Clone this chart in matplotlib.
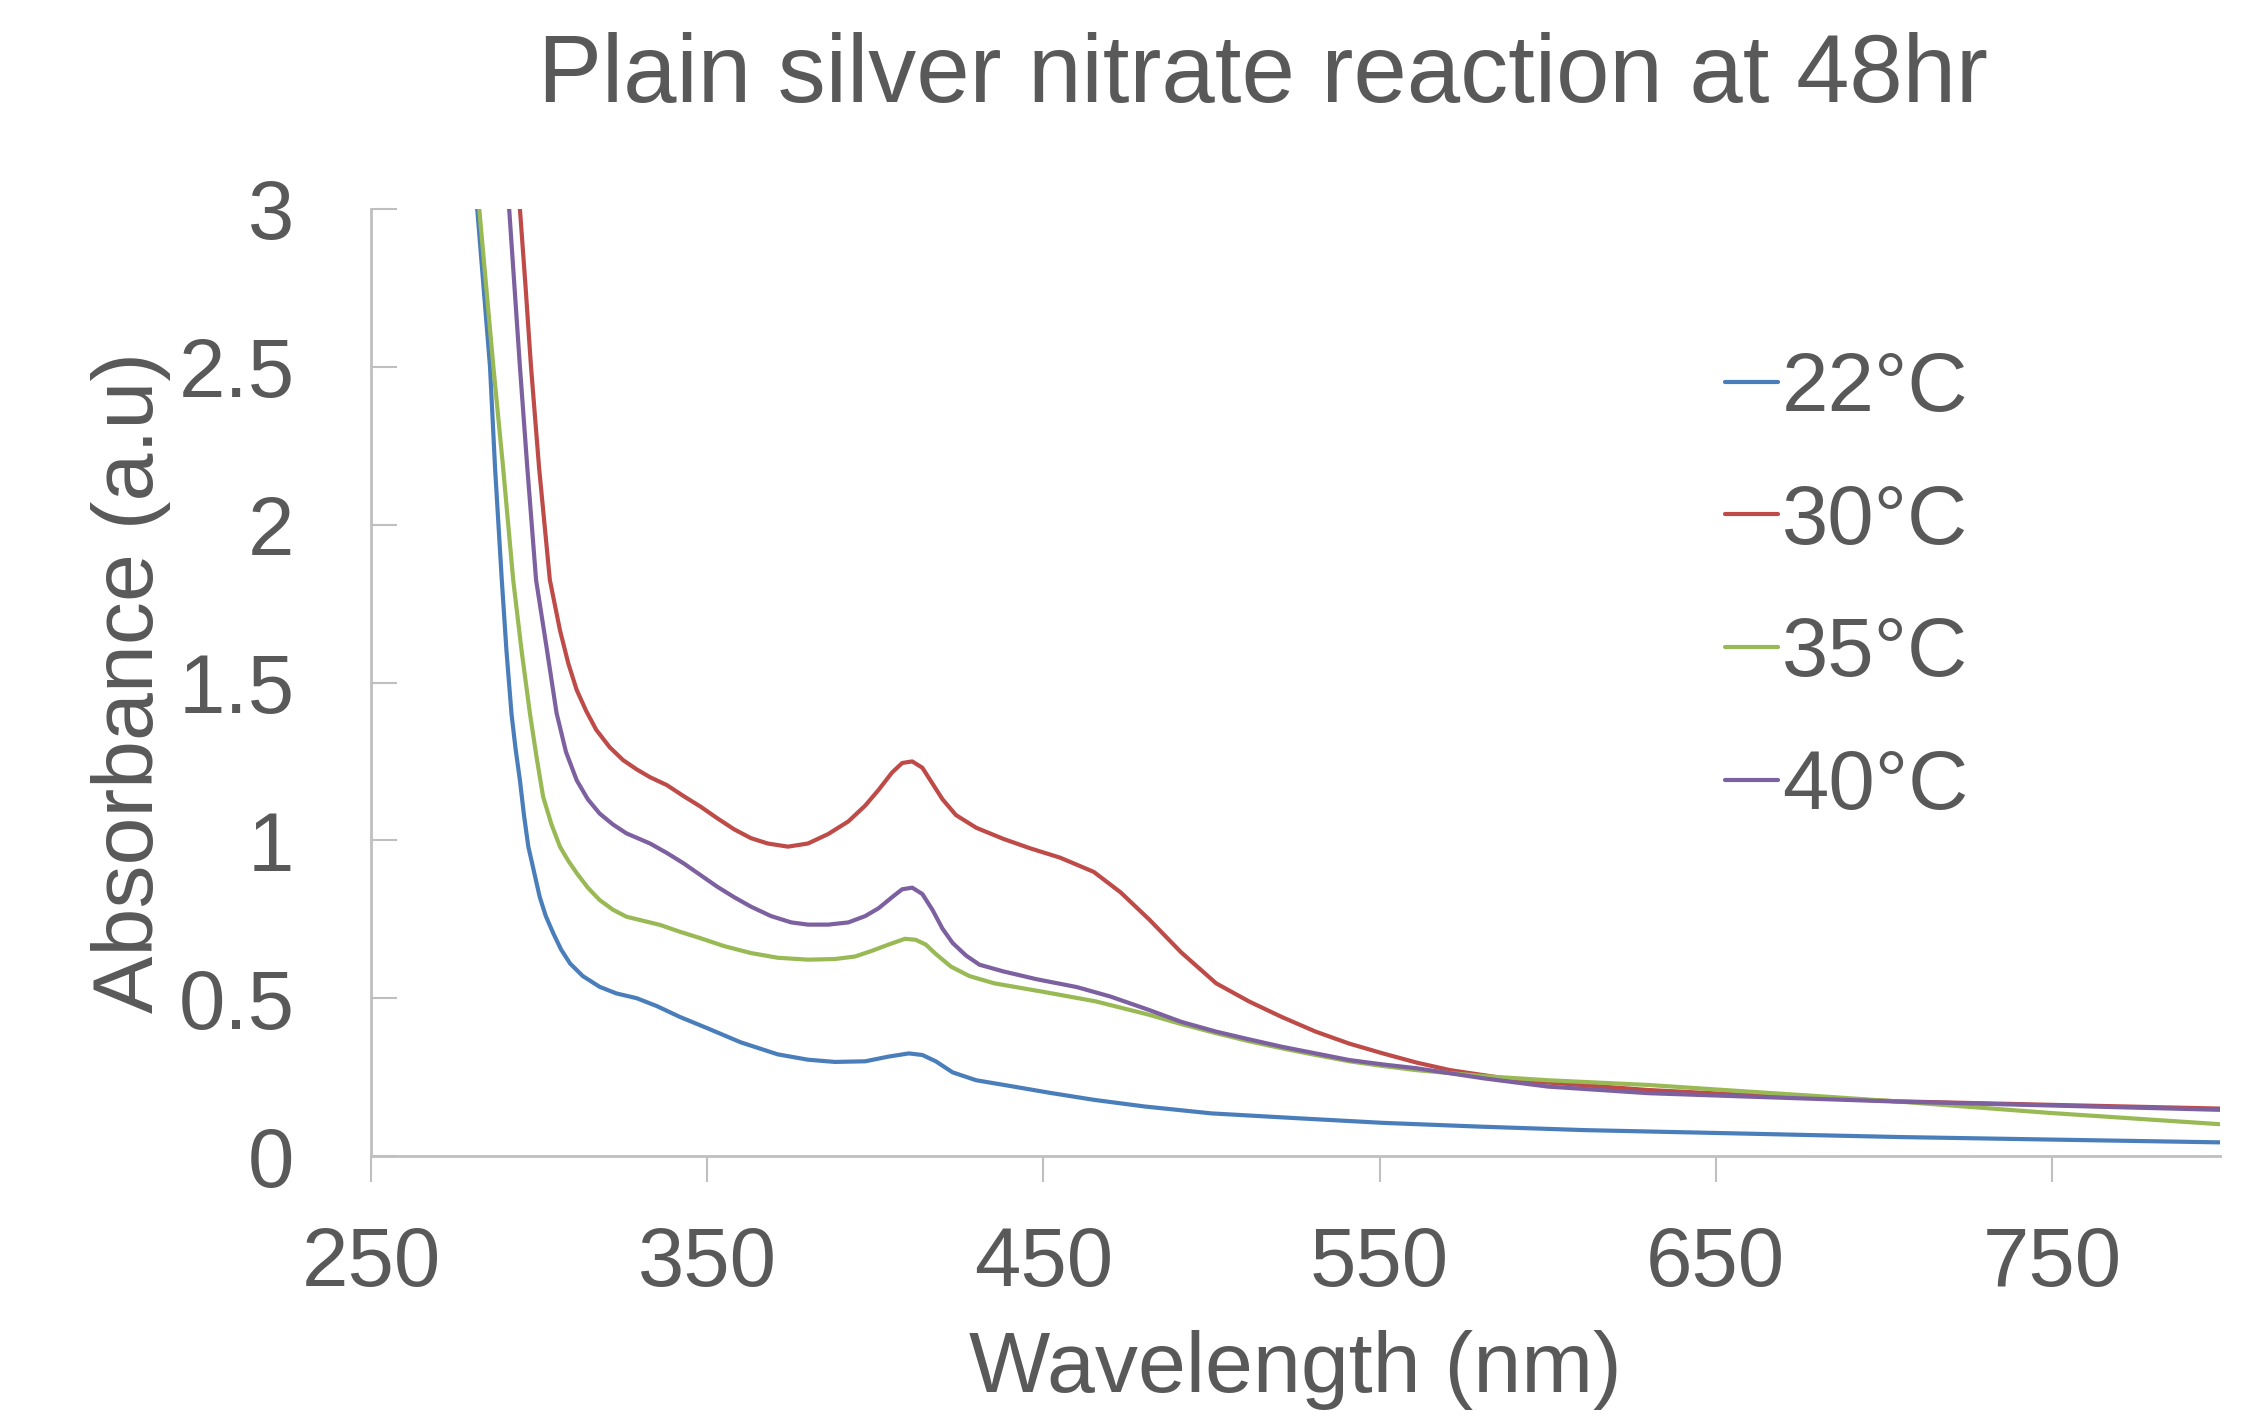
import matplotlib
matplotlib.use("Agg")
import matplotlib.pyplot as plt

# wavelength (nm) / absorbance (a.u)
wl_22 = [278, 281.6, 283.5, 285.4, 286.9, 288.9, 290.3, 291.8, 293, 294.3, 295.5, 296.8,
         298.5, 300.2, 302, 304.2, 306.5, 309.2, 313, 318, 323, 329, 335, 342, 350, 360,
         371, 380, 388, 397, 404, 410, 414, 418, 423, 430, 440, 452, 465, 480, 500, 525,
         551, 580, 611, 650, 705, 750, 801]
abs_22 = [3.5, 3.0, 2.75, 2.5, 2.18, 1.825, 1.6, 1.4, 1.29, 1.19, 1.08, 0.98, 0.9, 0.82,
          0.76, 0.706, 0.655, 0.61, 0.57, 0.536, 0.515, 0.5, 0.475, 0.44, 0.405, 0.36,
          0.322, 0.305, 0.298, 0.3, 0.315, 0.325, 0.32, 0.3, 0.265, 0.24, 0.222, 0.2,
          0.178, 0.157, 0.135, 0.12, 0.105, 0.093, 0.082, 0.073, 0.06, 0.052, 0.043]

wl_30 = [292, 294.3, 296, 297.6, 300, 303.2, 306.2, 308.7, 311.2, 314, 317, 321, 325, 329,
         333, 338, 343, 348, 353, 358, 363, 368, 374, 380, 386, 392, 397, 401, 405, 408,
         411, 414, 417, 420, 424, 430, 438, 446, 455, 465, 473, 481.6, 491, 501.4, 511.3,
         521, 531, 541, 551, 561, 571, 591, 630, 660, 705, 750, 801]
abs_30 = [3.4, 3.0, 2.75, 2.5, 2.18, 1.825, 1.666, 1.56, 1.476, 1.41, 1.35, 1.295, 1.254,
          1.225, 1.2, 1.175, 1.14, 1.107, 1.07, 1.035, 1.007, 0.99, 0.98, 0.99, 1.02, 1.06,
          1.11, 1.16, 1.215, 1.245, 1.25, 1.23, 1.18, 1.13, 1.08, 1.04, 1.005, 0.975, 0.945,
          0.9, 0.835, 0.748, 0.645, 0.547, 0.489, 0.44, 0.394, 0.356, 0.325, 0.296, 0.272,
          0.24, 0.209, 0.193, 0.173, 0.162, 0.15]

wl_35 = [280, 282.2, 284.3, 286.4, 289.3, 292.3, 294.8, 297.3, 299.3, 301.2, 303.7, 306.2,
         308.7, 311.2, 314.5, 318, 322, 326, 331, 336, 342, 348, 355, 363, 371, 380, 388,
         394, 399, 404, 408.8, 412, 415, 418, 422.5, 428, 435.4, 450, 465.5, 481.6, 491,
         501.4, 511, 521, 531, 541, 551, 561, 581, 600, 630, 654, 680, 705, 750, 801]
abs_35 = [3.4, 3.0, 2.75, 2.5, 2.18, 1.825, 1.6, 1.4, 1.26, 1.138, 1.05, 0.98, 0.935, 0.896,
          0.85, 0.811, 0.78, 0.758, 0.745, 0.732, 0.71, 0.69, 0.665, 0.643, 0.628, 0.622,
          0.624, 0.632, 0.65, 0.67, 0.688, 0.685, 0.67, 0.64, 0.6, 0.57, 0.547, 0.52, 0.49,
          0.447, 0.418, 0.389, 0.364, 0.341, 0.32, 0.3, 0.285, 0.272, 0.253, 0.24, 0.225,
          0.208, 0.19, 0.172, 0.136, 0.1]

wl_40 = [289, 291.1, 292.7, 294.3, 296.5, 299.1, 302.2, 305.2, 308, 311.2, 314.5, 318, 322,
         326, 333, 338, 343, 348, 353, 358, 363, 369, 375, 380, 386, 392, 397, 401, 405,
         408, 411, 414, 417, 420, 423, 427, 431, 438, 448, 460, 470, 481.6, 491, 501.4,
         511, 521, 531, 541, 551, 561, 581, 600, 630, 660, 705, 750, 801]
abs_40 = [3.4, 3.0, 2.75, 2.5, 2.18, 1.825, 1.613, 1.403, 1.28, 1.19, 1.13, 1.085, 1.05,
          1.022, 0.99, 0.96, 0.927, 0.89, 0.853, 0.82, 0.79, 0.76, 0.74, 0.733, 0.733, 0.74,
          0.76, 0.785, 0.82, 0.845, 0.85, 0.83, 0.78, 0.72, 0.675, 0.635, 0.606, 0.585, 0.56,
          0.535, 0.505, 0.462, 0.425, 0.394, 0.37, 0.346, 0.325, 0.304, 0.29, 0.278, 0.246,
          0.22, 0.199, 0.188, 0.172, 0.16, 0.146]

labels = ["22°C", "30°C", "35°C", "40°C"]
colors = ["#4a7ebb", "#be4b48", "#98b954", "#7d60a0"]
xticks = [250, 350, 450, 550, 650, 750]
yticks = [0, 0.5, 1, 1.5, 2, 2.5, 3]

txt = "#595959"
grey = "#bfbfbf"
plt.rcParams['font.family'] = ['Liberation Sans', 'DejaVu Sans']

fig = plt.figure(figsize=(22.57, 14.18), dpi=100)
ax = fig.add_axes([371/2257, 1-1156/1418, (2220-371)/2257, (1156-209)/1418])

series = [(wl_22, abs_22), (wl_30, abs_30), (wl_35, abs_35), (wl_40, abs_40)]
for (x, y), lab, c in zip(series, labels, colors):
    ax.plot(x, y, color=c, lw=3, label=lab, solid_capstyle='round', solid_joinstyle='round')

ax.set_xlim(250, 800)
ax.set_ylim(0, 3)
ax.set_xticks(xticks)
ax.set_yticks(yticks)
ax.set_yticklabels([f"{v:g}" for v in yticks])

for s in ['top', 'right']:
    ax.spines[s].set_visible(False)
for s in ['left', 'bottom']:
    ax.spines[s].set_color(grey)
    ax.spines[s].set_linewidth(2)

ax.tick_params(axis='x', direction='out', length=18.7, width=1.5, color=grey,
               labelsize=60, labelcolor=txt, pad=31)
ax.tick_params(axis='y', direction='in', length=18.7, width=1.5, color=grey,
               labelsize=60, labelcolor=txt, pad=55)

ax.set_xlabel("Wavelength (nm)", fontsize=62, color=txt, va='baseline')
ax.xaxis.set_label_coords(0.5, (1156-1392)/947)
ax.set_ylabel("Absorbance (a.u)", fontsize=62, color=txt, va='baseline')
ax.yaxis.set_label_coords((153-371)/1849, 0.5)

fig.text(1263/2257, 1-102/1418, "Plain silver nitrate reaction at 48hr",
         fontsize=69, color=txt, ha='center', va='baseline')

leg = ax.legend(loc='upper left', bbox_to_anchor=(1725/2257, 1-350/1418),
                bbox_transform=fig.transFigure, frameon=False, fontsize=60,
                handlelength=0.64, handletextpad=0.04, labelspacing=0.655,
                borderpad=0, borderaxespad=0)
for t in leg.get_texts():
    t.set_color(txt)

fig.savefig("out.png", dpi=100)
